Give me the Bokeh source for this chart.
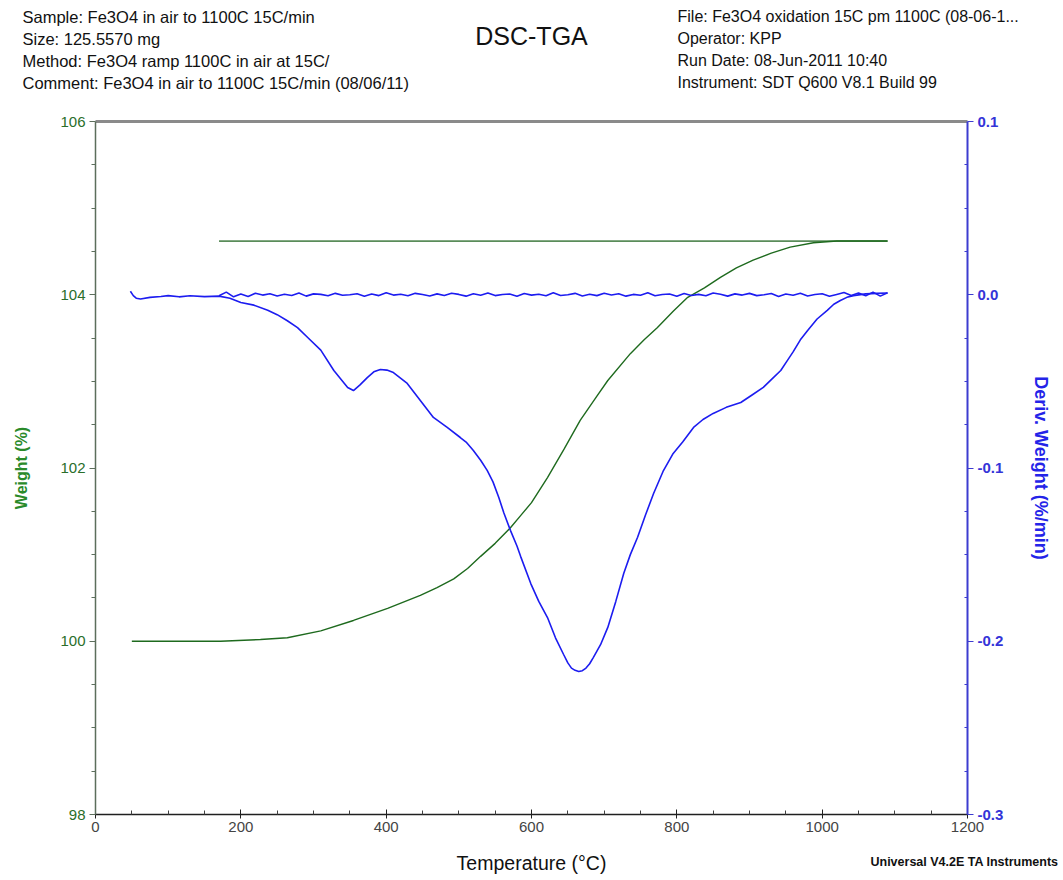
from bokeh.plotting import figure
from bokeh.models import Range1d, LinearAxis, FixedTicker, PrintfTickFormatter
from bokeh.layouts import column
from bokeh.core.properties import value
from bokeh.embed import file_html
from bokeh.resources import INLINE

# --- heating run: weight (%) against temperature (°C)
heat_temp = [50, 100, 172, 227, 264, 310, 355, 402, 447, 470, 493, 512, 530,
             550, 571, 585, 600, 622, 645, 667, 690, 705, 736, 755, 773, 795,
             815, 838, 860, 882, 905, 930, 956, 988, 1020, 1060, 1090]
heat_weight = [100.0, 100.0, 100.0, 100.02, 100.04, 100.12, 100.24, 100.38,
               100.53, 100.62, 100.72, 100.84, 100.98, 101.13, 101.31, 101.45,
               101.6, 101.89, 102.22, 102.55, 102.83, 103.01, 103.32, 103.48,
               103.62, 103.81, 103.97, 104.08, 104.20, 104.31, 104.40, 104.48,
               104.55, 104.60, 104.62, 104.62, 104.62]

# --- cooling run: weight stays constant
cool_temp = [1090, 170]
cool_weight = [104.62, 104.62]

# --- heating run: derivative of weight (%/min)
dtg_temp = [48, 52, 56, 62, 75, 90, 100, 115, 130, 150, 170, 185, 200, 218,
            237, 250, 264, 278, 292, 310, 328, 347, 355, 364, 374, 383, 392,
            401, 410, 429, 447, 465, 484, 502, 510, 520, 530, 539, 547, 555,
            562, 571, 580, 585, 599, 610, 622, 633, 644, 650, 655, 660, 665,
            670, 675, 680, 685, 695, 705, 716, 727, 736, 746, 757, 768, 781,
            795, 808, 823, 836, 850, 868, 888, 903, 919, 930, 943, 952, 960,
            970, 980, 993, 1007, 1016, 1025, 1034, 1043, 1060, 1075, 1090]
dtg_value = [0.002, -0.0005, -0.002, -0.0025, -0.0015, -0.001, -0.0005,
             -0.0012, -0.0006, -0.0011, -0.0008, -0.002, -0.0045, -0.006,
             -0.009, -0.0115, -0.015, -0.019, -0.0247, -0.032, -0.0437,
             -0.0535, -0.0553, -0.052, -0.0478, -0.0445, -0.0431, -0.0435,
             -0.0449, -0.0512, -0.061, -0.0708, -0.0766, -0.0824, -0.085,
             -0.0899, -0.0955, -0.1014, -0.108, -0.117, -0.126, -0.136,
             -0.145, -0.151, -0.1667, -0.177, -0.1863, -0.198, -0.2075,
             -0.2125, -0.2155, -0.2168, -0.2175, -0.217, -0.2155, -0.213,
             -0.2094, -0.202, -0.192, -0.177, -0.1608, -0.150, -0.14, -0.127,
             -0.1147, -0.102, -0.0916, -0.085, -0.0766, -0.072, -0.0685,
             -0.065, -0.0622, -0.058, -0.0535, -0.049, -0.0437, -0.038,
             -0.033, -0.026, -0.0206, -0.014, -0.009, -0.0055, -0.0033,
             -0.0015, -0.0005, 0.0005, 0.0008, 0.001]

# --- cooling run: derivative stays at zero, with instrument noise
cool_dtg_temp = [1090, 1080, 1070, 1060, 1050, 1040, 1030, 1020, 1010, 1000,
                 990, 980, 970, 960, 950, 940, 930, 920, 910, 900, 890, 880,
                 870, 860, 850, 840, 830, 820, 810, 800, 790, 780, 770, 760,
                 750, 740, 730, 720, 710, 700, 690, 680, 670, 660, 650, 640,
                 630, 620, 610, 600, 590, 580, 570, 560, 550, 540, 530, 520,
                 510, 500, 490, 480, 470, 460, 450, 440, 430, 420, 410, 400,
                 390, 380, 370, 360, 350, 340, 330, 320, 310, 300, 290, 280,
                 270, 260, 250, 240, 230, 220, 210, 200, 190, 180, 170]
cool_dtg_value = [0.0012, -0.0008, 0.0015, -0.0006, 0.0010, -0.0004, 0.0013,
                  0.0002, -0.0009, 0.0006, 0.0001, -0.0007, 0.0009, -0.0003,
                  0.0004, -0.0010, 0.0007, 0.0000, -0.0005, 0.0008, -0.0002,
                  0.0005, -0.0008, 0.0003, 0.0010, -0.0006, 0.0002, -0.0004,
                  0.0007, -0.0009, 0.0004, 0.0001, -0.0006, 0.0011, -0.0003,
                  0.0002, -0.0008, 0.0006, -0.0001, 0.0009, -0.0005, 0.0003,
                  -0.0007, 0.0008, 0.0000, -0.0004, 0.0012, -0.0006, 0.0003,
                  -0.0002, 0.0007, -0.0009, 0.0004, 0.0001, -0.0005, 0.0010,
                  -0.0003, 0.0006, -0.0008, 0.0002, 0.0009, -0.0004, 0.0005,
                  -0.0007, 0.0001, 0.0008, -0.0006, 0.0003, -0.0002, 0.0011,
                  -0.0005, 0.0004, -0.0009, 0.0006, 0.0000, -0.0003, 0.0008,
                  -0.0006, 0.0002, 0.0005, -0.0008, 0.0010, -0.0004, 0.0003,
                  -0.0007, 0.0006, -0.0002, 0.0009, -0.0010, 0.0004, -0.0012,
                  0.0015, -0.0006]

x_ticks = [0, 200, 400, 600, 800, 1000, 1200]
x_minor = [50, 100, 150, 250, 300, 350, 450, 500, 550, 650, 700, 750, 850,
           900, 950, 1050, 1100, 1150]
w_ticks = [98, 100, 102, 104, 106]
w_minor = [98.5, 99, 99.5, 100.5, 101, 101.5, 102.5, 103, 103.5, 104.5, 105,
           105.5]
d_ticks = [-0.3, -0.2, -0.1, 0.0, 0.1]
d_minor = [-0.275, -0.25, -0.225, -0.175, -0.15, -0.125, -0.075, -0.05,
           -0.025, 0.025, 0.05, 0.075]

header_left = ["Sample: Fe3O4 in air to 1100C 15C/min",
               "Size:  125.5570 mg",
               "Method: Fe3O4 ramp 1100C in air at 15C/",
               "Comment: Fe3O4 in air to 1100C 15C/min (08/06/11)"]
header_right = ["File: Fe3O4 oxidation 15C pm 1100C (08-06-1...",
                "Operator: KPP",
                "Run Date: 08-Jun-2011 10:40",
                "Instrument: SDT Q600 V8.1 Build 99"]
chart_title = "DSC-TGA"
x_title = "Temperature (°C)"
footer_note = "Universal V4.2E TA Instruments"

FONT = "Liberation Sans"
GREEN = "#1e6a1e"
BLUE = "#1c1cf0"
W = 1063
LEFT, RIGHT = 95, 96
HEAD_H = 105
FOOT_H = 36
MAIN_H = 880 - HEAD_H - FOOT_H


def text_strip(height):
    """A bare figure whose data units equal page pixels from its top-left."""
    f = figure(width=W, height=height, output_backend="svg",
               toolbar_location=None, x_range=Range1d(LEFT, W - RIGHT),
               y_range=Range1d(height, 0), x_axis_type=None,
               y_axis_type=None, min_border_left=LEFT,
               min_border_right=RIGHT, min_border_top=0, min_border_bottom=0)
    f.outline_line_color = None
    f.grid.visible = False
    return f


def strip_text(f, xs, ys, texts, size, align="left", style="normal"):
    r = f.text(x=xs, y=ys, text=texts, text_font=value(FONT),
               text_font_size=size, text_align=align,
               text_font_style=style, text_baseline="middle",
               text_color="#111111")
    r.level = "overlay"
    return r


# header: sample information and chart title
head = text_strip(HEAD_H)
strip_text(head, [22] * 4, [16, 38, 60, 82], header_left, "16.5px")
strip_text(head, [677] * 4, [16, 38, 60, 82], header_right, "16px")
strip_text(head, [531], [35], [chart_title], "25px", align="center")

# main plot
p = figure(width=W, height=MAIN_H, output_backend="svg",
           toolbar_location=None, x_range=Range1d(0, 1200),
           y_range=Range1d(98, 106),
           min_border_left=LEFT, min_border_right=RIGHT,
           min_border_top=16, min_border_bottom=30)
p.extra_y_ranges = {"deriv": Range1d(-0.3, 0.1)}
p.outline_line_color = None
p.grid.visible = False

xa = p.xaxis[0]
xa.ticker = FixedTicker(ticks=x_ticks, minor_ticks=x_minor)
xa.major_label_text_font = FONT
xa.major_label_text_font_size = "15px"
xa.major_label_standoff = 3
xa.axis_line_color = "#202020"
xa.axis_line_width = 1.5
xa.major_tick_in = 5
xa.major_tick_out = 4
xa.minor_tick_in = 4
xa.minor_tick_out = 0
xa.major_tick_line_color = "#202020"
xa.minor_tick_line_color = "#404040"

ya = p.yaxis[0]
ya.ticker = FixedTicker(ticks=w_ticks, minor_ticks=w_minor)
ya.axis_label = "Weight (%)"
ya.axis_label_text_font = FONT
ya.axis_label_text_font_size = "16px"
ya.axis_label_text_font_style = "bold"
ya.axis_label_text_color = "#2a8a2a"
ya.axis_label_standoff = 27
ya.major_label_text_font = FONT
ya.major_label_text_font_size = "15px"
ya.major_label_text_color = "#2a6e2a"
ya.major_label_standoff = 4
ya.axis_line_color = "#5c6e5c"
ya.axis_line_width = 1.5
ya.major_tick_in = 0
ya.major_tick_out = 6
ya.minor_tick_in = 0
ya.minor_tick_out = 4
ya.major_tick_line_color = "#5c6e5c"
ya.minor_tick_line_color = "#5c6e5c"

da = LinearAxis(y_range_name="deriv",
                ticker=FixedTicker(ticks=d_ticks, minor_ticks=d_minor),
                formatter=PrintfTickFormatter(format="%.1f"),
                axis_label="Deriv. Weight (%/min)")
da.axis_label_text_font = FONT
da.axis_label_text_font_size = "18px"
da.axis_label_text_font_style = "bold"
da.axis_label_text_color = "#2424e8"
da.axis_label_standoff = 25
da.major_label_text_font = FONT
da.major_label_text_font_size = "15px"
da.major_label_text_font_style = "bold"
da.major_label_text_color = "#3434d8"
da.major_label_standoff = 4
da.axis_line_color = "#3c3cd0"
da.axis_line_width = 2
da.major_tick_in = 0
da.major_tick_out = 6
da.minor_tick_in = 3
da.minor_tick_out = 0
da.major_tick_line_color = "#3c3cd0"
da.minor_tick_line_color = "#3c3cd0"
p.add_layout(da, "right")

# grey top edge of the plotting box
top = LinearAxis(ticker=FixedTicker(ticks=[]), major_label_text_font_size="0px")
top.axis_line_color = "#8a8a8a"
top.axis_line_width = 3
top.major_tick_line_color = None
top.minor_tick_line_color = None
p.add_layout(top, "above")

p.line(cool_temp, cool_weight, line_color="#5a8c5a", line_width=1.8)
p.line(heat_temp, heat_weight, line_color=GREEN, line_width=1.4)
p.line(cool_dtg_temp, cool_dtg_value, y_range_name="deriv",
       line_color=BLUE, line_width=1.6)
p.line(dtg_temp, dtg_value, y_range_name="deriv",
       line_color=BLUE, line_width=1.6)

# footer: axis title and software note
foot = text_strip(FOOT_H)
strip_text(foot, [531], [18], [x_title], "19.5px", align="center")
strip_text(foot, [1058], [17], [footer_note], "12.5px", align="right",
           style="bold")

layout = column(head, p, foot, spacing=0)
open("out.html", "w").write(file_html(layout, INLINE))
